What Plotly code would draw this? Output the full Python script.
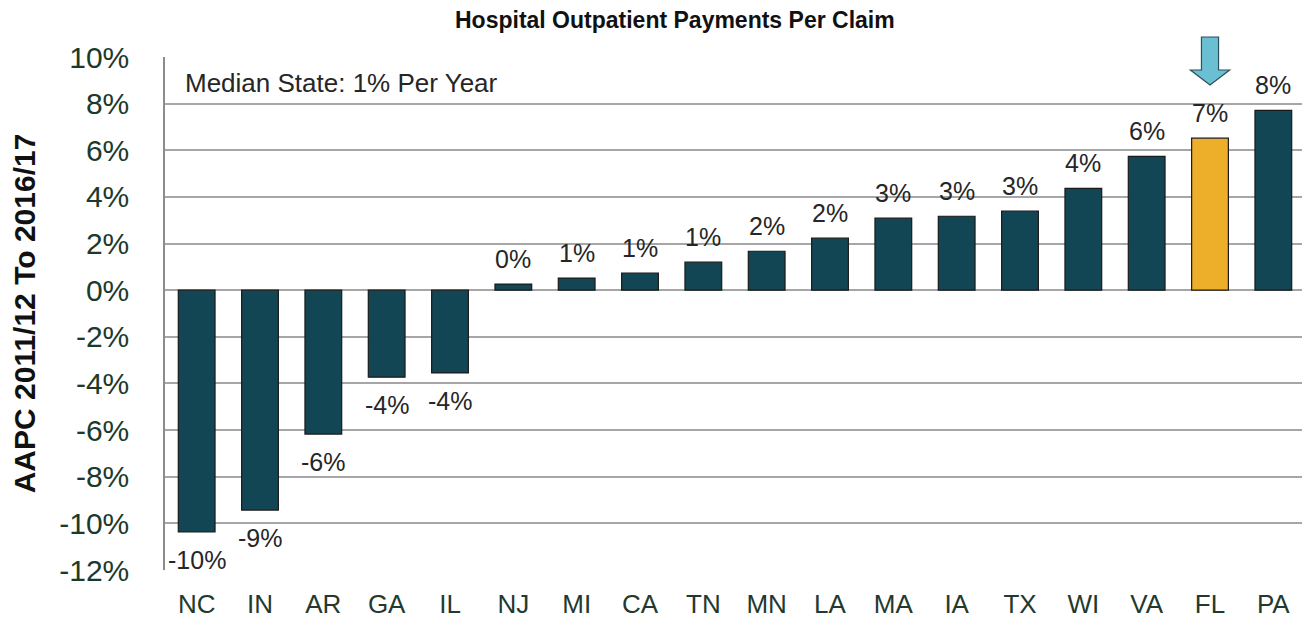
import plotly.graph_objects as go

states = ["NC", "IN", "AR", "GA", "IL", "NJ", "MI", "CA", "TN", "MN", "LA", "MA", "IA", "TX", "WI", "VA", "FL", "PA"]
aapc = [-10.37, -9.43, -6.17, -3.73, -3.55, 0.26, 0.52, 0.73, 1.2, 1.67, 2.23, 3.09, 3.17, 3.39, 4.37, 5.74, 6.52, 7.71]
highlight_state = "FL"
y_tick_vals = [10, 8, 6, 4, 2, 0, -2, -4, -6, -8, -10, -12]
y_tick_text = ["10%", "8%", "6%", "4%", "2%", "0%", "-2%", "-4%", "-6%", "-8%", "-10%", "-12%"]
title_text = "Hospital Outpatient Payments Per Claim"
y_title = "AAPC 2011/12 To 2016/17"
median_note = "Median State: 1% Per Year"

BAR = "#134654"
HL = "#EDAE2A"
colors = [HL if s == highlight_state else BAR for s in states]
labels = [f"{v:.0f}%" for v in aapc]

FONT = "Liberation Sans, Arial, sans-serif"

fig = go.Figure(go.Bar(
    x=states, y=aapc,
    marker=dict(color=colors, line=dict(color="#1a1a1a", width=1.2)),
    width=0.58,
    hoverinfo="x+y",
))

# page body has an 8px margin; figure coordinates are page coordinates minus 8
OFF = 8
W, H = 1310 - OFF, 623 - OFF
L, R, T = 165 - OFF, 5, 57 - OFF
B = H - (570 - OFF)
pw = W - L - R
ph = H - T - B

def py(pix):
    return (H - B - (pix - OFF)) / ph

def px(pix):
    return (pix - OFF - L) / pw

hi = states.index(highlight_state)
sw, hw = 0.135, 0.31
y_top, y_head, y_tip = py(37), py(70), py(85)
path = (f"M {hi - sw},{y_top} L {hi + sw},{y_top} L {hi + sw},{y_head} L {hi + hw},{y_head} "
        f"L {hi},{y_tip} L {hi - hw},{y_head} L {hi - sw},{y_head} Z")

annotations = [
    dict(text=f"<b>{title_text}</b>", x=px(674.5), y=py(20), xref="paper", yref="paper",
         xanchor="center", yanchor="middle", showarrow=False,
         font=dict(family=FONT, size=23, color="#111111")),
    dict(text=median_note, x=px(183), y=py(83), xref="paper", yref="paper",
         xanchor="left", yanchor="middle", showarrow=False,
         font=dict(family=FONT, size=26, color="#262626")),
]
for s, v, t in zip(states, aapc, labels):
    pos = v >= 0
    annotations.append(dict(
        text=t, x=s, y=v, xref="x", yref="y", showarrow=False,
        xanchor="center", yanchor="bottom" if pos else "top",
        yshift=9 if pos else -12,
        font=dict(family=FONT, size=25, color="#262626"),
    ))

fig.update_layout(
    width=W, height=H,
    margin=dict(l=L, r=R, t=T, b=B),
    plot_bgcolor="white", paper_bgcolor="white",
    showlegend=False,
    bargap=0.42,
    font=dict(family=FONT),
    xaxis=dict(
        showgrid=False, showline=False, ticks="", automargin=False,
        tickfont=dict(family=FONT, size=26, color="#23392f"),
        ticklabelstandoff=16,
    ),
    yaxis=dict(
        range=[-12, 10], tickvals=y_tick_vals, ticktext=y_tick_text, automargin=False,
        showgrid=True, gridcolor="#a6a6a6", gridwidth=1.5,
        zeroline=True, zerolinecolor="#a6a6a6", zerolinewidth=1.5,
        showline=True, linecolor="#8c8c8c", linewidth=1.5,
        ticks="", ticklabelstandoff=28,
        tickfont=dict(family=FONT, size=30, color="#1c3a2c"),
        title=dict(text=y_title, font=dict(family=FONT, size=30, color="#111111", weight="bold"), standoff=22),
    ),
    shapes=[dict(type="path", path=path, xref="x", yref="paper",
                 fillcolor="#6BBFD3", line=dict(color="#2f4f58", width=1.2), layer="above")],
    annotations=annotations,
)

fig.write_html("out.html")
